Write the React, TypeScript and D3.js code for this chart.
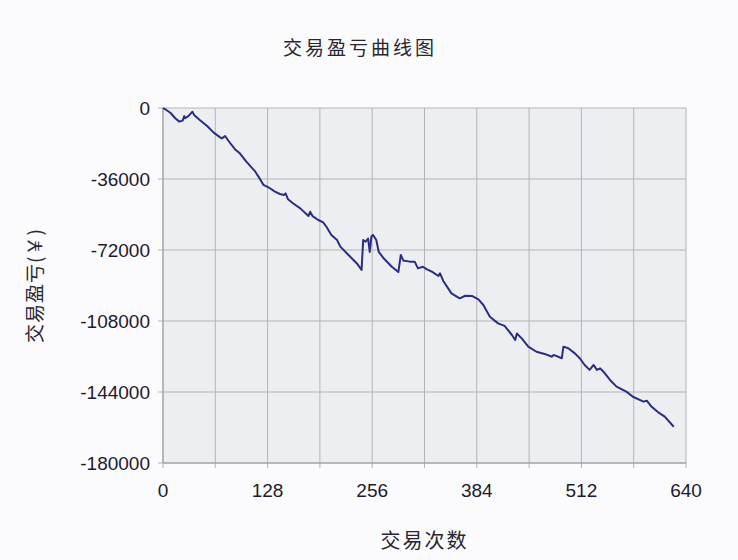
import { useRef, useEffect } from 'react';
import * as d3 from 'd3';

// trade number (x) and cumulative profit/loss in yuan (y)
const tradeIndex = [
    0, 4, 9, 15, 20, 24, 26, 27, 31, 36, 38, 45, 54, 62, 70, 72, 76, 80, 88, 94,
    102, 113, 119, 123, 129, 137, 143, 148, 150, 153, 159, 168, 178, 180, 183, 190, 196, 200, 206, 213,
    217, 227, 237, 243, 245, 248, 251, 253, 255, 257, 261, 264, 270, 280, 288, 291, 294, 302, 308, 312,
    318, 323, 329, 337, 339, 343, 353, 363, 370, 378, 386, 392, 400, 410, 418, 427, 431, 433, 439, 447,
    457, 467, 476, 478, 488, 490, 496, 504, 510, 516, 522, 527, 531, 535, 539, 547, 555, 567, 575, 588,
    592, 598, 606, 614, 625,
];
const pnl = [
    0, -1000, -2400, -5200, -6900, -6400, -4100, -5200, -4100, -1900, -3500, -6100, -9100, -12500, -14900, -15400, -14200, -16600, -20900, -23000,
    -27200, -32300, -36200, -39000, -40200, -42400, -43600, -44100, -43300, -46300, -48300, -50900, -54800, -52600, -54800, -56800, -58000, -60200, -64400, -66900,
    -70300, -74500, -78700, -82100, -66900, -67800, -66200, -73000, -65200, -64400, -66900, -72900, -76200, -80500, -83200, -74500, -77300, -77900, -77900, -81300,
    -80500, -81800, -83000, -85200, -83800, -87700, -94000, -96500, -95200, -95300, -97000, -99900, -105800, -109200, -110500, -115100, -117600, -114300, -116800, -121000,
    -123600, -124700, -126100, -125200, -126900, -121000, -121800, -124400, -126900, -130300, -132800, -130300, -132800, -132000, -133700, -137900, -141300, -143800, -146400, -148900,
    -148400, -151500, -154300, -156500, -161600,
];
const xGridTicks = [0, 64, 128, 192, 256, 320, 384, 448, 512, 576, 640];
const xLabelTicks = [0, 128, 256, 384, 512, 640];
const yTicks = [0, -36000, -72000, -108000, -144000, -180000];

const title = '交易盈亏曲线图';
const xTitle = '交易次数';
const yTitle = '交易盈亏(￥)';

export default function App() {
    const ref = useRef<SVGSVGElement>(null);

    useEffect(() => {
        const svg = d3.select(ref.current);
        svg.selectAll('*').remove();

        const left = 163, right = 686, top = 108, bottom = 463;
        const x = d3.scaleLinear().domain([0, 640]).range([left, right]);
        const y = d3.scaleLinear().domain([-180000, 0]).range([bottom, top]);
        const numFont = '"Liberation Sans", Arial, sans-serif';
        const cjkFont = '"Noto Sans CJK SC", sans-serif';

        svg.append('rect')
            .attr('width', 738).attr('height', 560)
            .attr('fill', '#fbfbfd');

        svg.append('rect')
            .attr('x', left).attr('y', top)
            .attr('width', right - left).attr('height', bottom - top)
            .attr('fill', '#eceef2');

        // grid
        const grid = svg.append('g').attr('stroke', '#b4b4b8').attr('stroke-width', 1);
        grid.selectAll('line.v')
            .data(xGridTicks)
            .enter()
            .append('line')
                .attr('class', 'v')
                .attr('x1', (d) => x(d)).attr('x2', (d) => x(d))
                .attr('y1', top).attr('y2', bottom + 5);
        grid.selectAll('line.h')
            .data(yTicks)
            .enter()
            .append('line')
                .attr('class', 'h')
                .attr('x1', left - 5).attr('x2', right)
                .attr('y1', (d) => y(d)).attr('y2', (d) => y(d));

        // axis lines
        svg.append('line')
            .attr('x1', left).attr('x2', right)
            .attr('y1', bottom).attr('y2', bottom)
            .attr('stroke', '#9a9a9e');
        svg.append('line')
            .attr('x1', left).attr('x2', left)
            .attr('y1', top).attr('y2', bottom)
            .attr('stroke', '#9a9a9e');

        // tick labels
        svg.append('g').selectAll('text')
            .data(yTicks)
            .enter()
            .append('text')
                .attr('x', left - 13)
                .attr('y', (d) => y(d) + 7)
                .attr('text-anchor', 'end')
                .style('font-family', numFont)
                .style('font-size', '19px')
                .attr('fill', '#1e1a2e')
                .text((d) => String(d));
        svg.append('g').selectAll('text')
            .data(xLabelTicks)
            .enter()
            .append('text')
                .attr('x', (d) => x(d))
                .attr('y', bottom + 34)
                .attr('text-anchor', 'middle')
                .style('font-family', numFont)
                .style('font-size', '19px')
                .attr('fill', '#1e1a2e')
                .text((d) => String(d));

        // curve
        const line = d3.line<number>()
            .x((d) => x(d))
            .y((_, i) => y(pnl[i]));
        svg.append('path')
            .datum(tradeIndex)
            .attr('d', line)
            .attr('fill', 'none')
            .attr('stroke', '#2b2e80')
            .attr('stroke-width', 2)
            .attr('stroke-linejoin', 'round');

        // titles
        svg.append('text')
            .attr('x', 360).attr('y', 55)
            .attr('text-anchor', 'middle')
            .style('font-family', cjkFont)
            .style('font-size', '19px')
            .style('letter-spacing', '3px')
            .attr('fill', '#2a2630')
            .text(title);
        svg.append('text')
            .attr('x', (left + right) / 2).attr('y', 548)
            .attr('text-anchor', 'middle')
            .style('font-family', cjkFont)
            .style('font-size', '20px')
            .style('letter-spacing', '2px')
            .attr('fill', '#2a2630')
            .text(xTitle);
        svg.append('text')
            .attr('transform', `translate(42, ${(top + bottom) / 2}) rotate(-90)`)
            .attr('text-anchor', 'middle')
            .style('font-family', cjkFont)
            .style('font-size', '19px')
            .style('letter-spacing', '1px')
            .attr('fill', '#2a2630')
            .text(yTitle);
    }, [ref]);

    return (
        <svg ref={ref} width={738} height={560}
            style={{ position: 'absolute', left: 0, top: 0, display: 'block' }} />
    );
}
